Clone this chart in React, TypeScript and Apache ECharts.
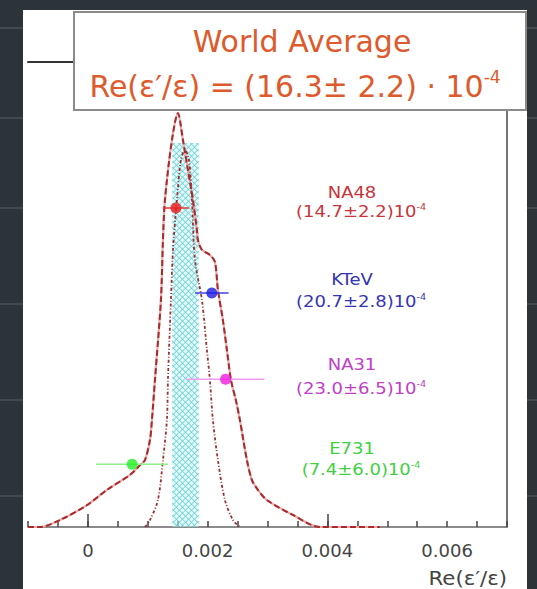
import { useEffect, useRef } from 'react';
import * as echarts from 'echarts';

// ---------- data ----------
const labelStep = 0.002; // labelled values: 0, 0.002, 0.004, 0.006
const tickStep = 0.0005;
const longTicks = [0, 0.004];

// ideogram (sum of measurements) - dashed curve
const ideogramX = [-0.001, -0.0008, -0.000466, -0.000015, 0.000319, 0.000703, 0.00087, 0.000953, 0.001037, 0.00107, 0.00112, 0.00122, 0.001254, 0.001287, 0.001404, 0.001504, 0.001588, 0.001671, 0.001755, 0.001821, 0.001838, 0.001905, 0.002038, 0.002122, 0.002172, 0.002255, 0.002322, 0.00239, 0.002471, 0.002539, 0.002656, 0.00274, 0.00284, 0.00299, 0.003424, 0.003875, 0.004876];
const ideogramY = [0, 0, 1.5, 4.7, 8.0, 11.2, 13.3, 14.4, 18.7, 23.0, 31.6, 48.8, 61.7, 70.3, 83.2, 89.0, 83.2, 76.8, 70.3, 63.9, 61.7, 59.6, 58.5, 57.0, 51.0, 44.5, 38.1, 31.6, 27.3, 23.0, 14.4, 10.1, 8.0, 5.8, 2.6, 0, 0];

// world-average gaussian - dotted curve
const averageX = [0.000953, 0.001037, 0.00117, 0.001254, 0.00132, 0.001337, 0.001387, 0.001421, 0.001487, 0.001554, 0.001621, 0.001688, 0.001738, 0.001788, 0.001905, 0.001988, 0.002038, 0.002088, 0.002172, 0.002289, 0.002423, 0.00254];
const averageY = [0, 1.5, 5.8, 14.4, 23.0, 31.6, 48.8, 59.6, 70.3, 78.9, 81.1, 78.9, 70.3, 57.4, 48.8, 38.1, 31.6, 23.0, 14.4, 5.8, 1.5, 0];

// world average band
const worldAverage = 16.3; // x 1e-4
const worldError = 2.2; // x 1e-4
const bandTop = 82.6;

// experiments
const experiments = ['NA48', 'KTeV', 'NA31', 'E731'];
const expValues = [14.7, 20.7, 23.0, 7.4]; // x 1e-4
const expErrors = [2.2, 2.8, 6.5, 6.0]; // x 1e-4
const expHeights = [68.6, 50.3, 31.8, 13.5];

// ---------- styles ----------
const dotColors = ['#ee1c1c', '#1a1ae0', '#ee1cdd', '#22ee22'];
const barColors = ['#e03a3a', '#4040e0', '#f29cf2', '#8cf08c'];
const textColors = ['#c8343a', '#3434b4', '#c040c8', '#40d040'];
const nameY = [193, 280, 365, 449];
const valueY = [212, 302, 389, 470];
const titleColor = '#dd5a2c';
const FONT = 'DejaVu Sans';

export default function App() {
  const ref = useRef<HTMLDivElement>(null);
  useEffect(() => {
    const chart = echarts.init(ref.current!, null, { renderer: 'svg' });

    const ideogram = ideogramX.map((x, i) => [x, ideogramY[i]]);
    const average = averageX.map((x, i) => [x, averageY[i]]);

    const bgLines = [28, 118, 208, 304, 400, 496].map((y) => ({
      type: 'line',
      z: -200,
      shape: { x1: 0, y1: y, x2: 537, y2: y },
      style: { stroke: '#48525a', lineWidth: 1.5 },
    }));

    const labelTexts: any[] = [];
    experiments.forEach((name, i) => {
      labelTexts.push({
        type: 'text',
        z: 50,
        x: 352,
        y: nameY[i],
        scaleX: 1.2,
        style: {
          text: name,
          fontSize: 15,
          fontFamily: FONT,
          fill: textColors[i],
          align: 'center',
          verticalAlign: 'middle',
        },
      });
      labelTexts.push({
        type: 'text',
        z: 50,
        x: 361,
        y: valueY[i],
        scaleX: 1.2,
        style: {
          text: `{m|(${expValues[i].toFixed(1)}±${expErrors[i].toFixed(1)})10}{s|-4}`,
          align: 'center',
          verticalAlign: 'middle',
          rich: {
            m: { fontSize: 15, fontFamily: FONT, fill: textColors[i], lineHeight: 18 },
            s: { fontSize: 8, fontFamily: FONT, fill: textColors[i], lineHeight: 9, verticalAlign: 'top' },
          },
        },
      });
    });

    const isLabelled = (v: number) => Math.abs(v / labelStep - Math.round(v / labelStep)) < 1e-6;

    const option: any = {
      animation: false,
      backgroundColor: '#2c3439',
      grid: { left: 28, right: 30, top: 62, bottom: 62 },
      xAxis: [
        {
          type: 'value',
          min: -0.001,
          max: 0.007,
          interval: tickStep,
          position: 'bottom',
          axisLine: { show: true, onZero: false, lineStyle: { color: '#666', width: 1.5 } },
          axisTick: { show: true, inside: true, length: 6, lineStyle: { color: '#444', width: 1.5 } },
          axisLabel: {
            show: true,
            formatter: (v: number) => {
              if (!isLabelled(v)) return '';
              return Math.abs(v) < 1e-9 ? '0' : v.toFixed(3);
            },
            fontSize: 18,
            fontFamily: FONT,
            color: '#444',
            margin: 14,
          },
          splitLine: { show: false },
        },
        {
          type: 'value',
          min: -0.001,
          max: 0.007,
          position: 'top',
          axisLine: { show: true, onZero: false, lineStyle: { color: '#333', width: 2 } },
          axisTick: { show: false },
          axisLabel: { show: false },
          splitLine: { show: false },
        },
      ],
      yAxis: [
        {
          type: 'value',
          min: 0,
          max: 100,
          position: 'left',
          axisLine: { show: false, onZero: false },
          axisTick: { show: false },
          axisLabel: { show: false },
          splitLine: { show: false },
        },
        {
          type: 'value',
          min: 0,
          max: 100,
          position: 'right',
          axisLine: { show: true, onZero: false, lineStyle: { color: '#444', width: 1.5 } },
          axisTick: { show: false },
          axisLabel: { show: false },
          splitLine: { show: false },
        },
      ],
      series: [
        {
          type: 'custom',
          z: 1,
          xAxisIndex: 0,
          yAxisIndex: 0,
          silent: true,
          data: [[(worldAverage - worldError) * 1e-4, (worldAverage + worldError) * 1e-4, bandTop]],
          renderItem: (params: any, api: any) => {
            const a = api.coord([api.value(0), api.value(2)]);
            const b = api.coord([api.value(1), 0]);
            const x = a[0];
            const y = a[1];
            const w = b[0] - a[0];
            const h = b[1] - a[1];
            const children: any[] = [
              { type: 'rect', shape: { x, y, width: w, height: h }, style: { fill: 'rgba(200,244,246,0.5)' } },
            ];
            const s = 6;
            for (let c = -h; c < w; c += s) {
              const t0 = Math.max(0, -c);
              const t1 = Math.min(h, w - c);
              if (t1 > t0) {
                children.push({
                  type: 'line',
                  shape: { x1: x + c + t0, y1: y + t0, x2: x + c + t1, y2: y + t1 },
                  style: { stroke: '#62cfd6', lineWidth: 1 },
                });
                children.push({
                  type: 'line',
                  shape: { x1: x + w - c - t0, y1: y + t0, x2: x + w - c - t1, y2: y + t1 },
                  style: { stroke: '#62cfd6', lineWidth: 1 },
                });
              }
            }
            return { type: 'group', children };
          },
        },
        {
          type: 'line',
          z: 3,
          data: ideogram,
          smooth: 0.3,
          showSymbol: false,
          lineStyle: { color: '#eaaaaa', width: 2.2 },
          silent: true,
        },
        {
          type: 'line',
          z: 3,
          data: ideogram,
          smooth: 0.3,
          showSymbol: false,
          lineStyle: { color: '#a82a2a', width: 2, type: [6, 3] },
          silent: true,
        },
        {
          type: 'line',
          z: 3,
          data: average,
          smooth: 0.3,
          showSymbol: false,
          lineStyle: { color: '#9a3030', width: 1.8, type: [3, 2, 1, 2] },
          silent: true,
        },
        {
          type: 'custom',
          z: 4,
          silent: true,
          data: experiments.map((_, i) => [expValues[i] * 1e-4, expErrors[i] * 1e-4, expHeights[i]]),
          renderItem: (params: any, api: any) => {
            const v = api.value(0);
            const e = api.value(1);
            const yv = api.value(2);
            const p0 = api.coord([v - e, yv]);
            const p1 = api.coord([v + e, yv]);
            return {
              type: 'line',
              shape: { x1: p0[0], y1: p0[1], x2: p1[0], y2: p1[1] },
              style: { stroke: barColors[params.dataIndex], lineWidth: 1.5 },
            };
          },
        },
        {
          type: 'scatter',
          z: 5,
          symbolSize: 11,
          data: experiments.map((name, i) => ({
            name,
            value: [expValues[i] * 1e-4, expHeights[i]],
            itemStyle: { color: dotColors[i] },
          })),
          markLine: {
            silent: true,
            symbol: 'none',
            label: { show: false },
            lineStyle: { color: '#444', width: 1.5, type: 'solid' },
            data: longTicks.map((v) => [{ coord: [v, 0] }, { coord: [v, 2.8] }]),
          },
        },
      ],
      graphic: [
        ...bgLines,
        {
          type: 'rect',
          z: -100,
          shape: { x: 23, y: 10, width: 504, height: 600 },
          style: { fill: '#ffffff' },
        },
        ...labelTexts,
        {
          type: 'text',
          z: 50,
          x: 507,
          y: 578,
          scaleX: 1.12,
          style: {
            text: 'Re(ε′/ε)',
            fontSize: 19,
            fontFamily: FONT,
            fill: '#444',
            align: 'right',
            verticalAlign: 'middle',
          },
        },
        {
          type: 'rect',
          z: 100,
          shape: { x: 74, y: 12, width: 452, height: 98 },
          style: { fill: '#ffffff', stroke: '#8a8a8a', lineWidth: 2 },
        },
        {
          type: 'text',
          z: 101,
          x: 302,
          y: 41,
          style: {
            text: 'World Average',
            fontSize: 30,
            fontFamily: FONT,
            fill: titleColor,
            align: 'center',
            verticalAlign: 'middle',
          },
        },
        {
          type: 'text',
          z: 101,
          x: 295,
          y: 86,
          style: {
            text: '{a|Re(ε′/ε) = (16.3± 2.2) · 10}{b|-4}',
            align: 'center',
            verticalAlign: 'middle',
            rich: {
              a: { fontSize: 30, fontFamily: FONT, fill: titleColor, lineHeight: 36 },
              b: { fontSize: 17, fontFamily: FONT, fill: titleColor, lineHeight: 20, verticalAlign: 'top' },
            },
          },
        },
      ],
    };

    chart.setOption(option);
    return () => chart.dispose();
  }, []);

  return <div ref={ref} style={{ position: 'fixed', left: 0, top: 0, width: 537, height: 589 }} />;
}
